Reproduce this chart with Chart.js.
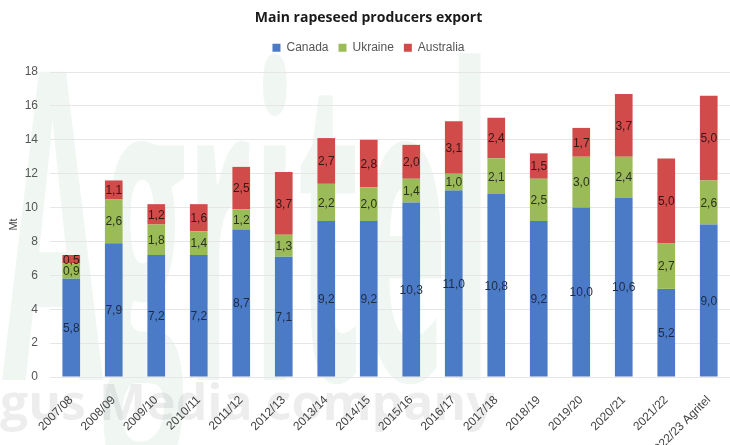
<!DOCTYPE html>
<html>
<head>
<meta charset="utf-8">
<script src="https://cdn.jsdelivr.net/npm/chart.js@4.4.1/dist/chart.umd.min.js"></script>
<style>
  html, body { margin: 0; padding: 0; background: #ffffff; }
  #wrap { width: 730px; height: 445px; position: relative; overflow: hidden; }
</style>
</head>
<body>
<div id="wrap"><canvas id="chart" width="730" height="445"></canvas></div>
<script>
// Marketing years
const seasons = ['2007/08', '2008/09', '2009/10', '2010/11', '2011/12', '2012/13', '2013/14', '2014/15',
  '2015/16', '2016/17', '2017/18', '2018/19', '2019/20', '2020/21', '2021/22', '2022/23 Agritel'];

// Rapeseed exports, million tonnes
const canada    = [5.8, 7.9, 7.2, 7.2, 8.7, 7.1, 9.2, 9.2, 10.3, 11.0, 10.8, 9.2, 10.0, 10.6, 5.2, 9.0];
const ukraine   = [0.9, 2.6, 1.8, 1.4, 1.2, 1.3, 2.2, 2.0, 1.4, 1.0, 2.1, 2.5, 3.0, 2.4, 2.7, 2.6];
const australia = [0.5, 1.1, 1.2, 1.6, 2.5, 3.7, 2.7, 2.8, 2.0, 3.1, 2.4, 1.5, 1.7, 3.7, 5.0, 5.0];

const yTicks = [0, 2, 4, 6, 8, 10, 12, 14, 16, 18];

const fmt = v => v.toFixed(1).replace('.', ',');

// Faint background branding drawn behind the plot
const watermark = {
  id: 'watermark',
  beforeDraw(chart) {
    const ctx = chart.ctx;
    ctx.save();
    ctx.fillStyle = 'rgba(110, 175, 135, 0.10)';
    ctx.font = 'bold 430px "Open Sans", sans-serif';
    ctx.textBaseline = 'alphabetic';
    const w = ctx.measureText('Agritel').width;
    ctx.translate(2, 380);
    ctx.scale(490 / w, 1);
    ctx.fillText('Agritel', 0, 0);
    ctx.restore();

    ctx.save();
    ctx.fillStyle = 'rgba(0, 0, 0, 0.07)';
    ctx.font = 'bold 50px "Open Sans", sans-serif';
    ctx.textBaseline = 'alphabetic';
    const pre = ctx.measureText('Ar').width;
    ctx.fillText('Argus Media company', -pre, 420);
    ctx.restore();
  }
};

// Value labels centred in each stacked segment
const segmentLabels = {
  id: 'segmentLabels',
  afterDatasetsDraw(chart) {
    const ctx = chart.ctx;
    ctx.save();
    ctx.font = '12px "Liberation Sans", Arial, sans-serif';
    ctx.textAlign = 'center';
    ctx.textBaseline = 'middle';
    chart.data.datasets.forEach((ds, i) => {
      const meta = chart.getDatasetMeta(i);
      ctx.fillStyle = ds.labelColor;
      meta.data.forEach((bar, j) => {
        const y = (bar.y + bar.base) / 2;
        ctx.fillText(fmt(ds.data[j]), bar.x, y + 1);
      });
    });
    ctx.restore();
  }
};

new Chart(document.getElementById('chart'), {
  type: 'bar',
  data: {
    labels: seasons,
    datasets: [
      { label: 'Canada', data: canada, backgroundColor: '#4b7bc6', labelColor: '#1e2b48' },
      { label: 'Ukraine', data: ukraine, backgroundColor: '#9bbb59', labelColor: '#2a331a' },
      { label: 'Australia', data: australia, backgroundColor: '#d14b4b', labelColor: '#3a1515' }
    ]
  },
  options: {
    responsive: false,
    animation: false,
    devicePixelRatio: 1,
    layout: { padding: { left: 7, right: 0, top: 0, bottom: 0 } },
    datasets: { bar: { categoryPercentage: 0.8, barPercentage: 0.52 } },
    plugins: {
      title: {
        display: true,
        text: 'Main rapeseed producers export',
        color: '#1a1a1a',
        font: { family: '"Open Sans", sans-serif', size: 14, weight: 'bold' },
        padding: { top: 10, bottom: 5 }
      },
      // empty spacer between the legend and the plot
      subtitle: {
        display: true,
        text: '',
        weight: 500,
        font: { size: 1 },
        padding: { top: 0, bottom: 7 }
      },
      legend: {
        position: 'top',
        labels: {
          color: '#555555',
          font: { family: '"Liberation Sans", Arial, sans-serif', size: 12 },
          boxWidth: 8,
          boxHeight: 8,
          padding: 10
        }
      },
      tooltip: { enabled: false }
    },
    scales: {
      x: {
        stacked: true,
        grid: { display: false },
        border: { display: false },
        ticks: {
          color: '#444444',
          font: { family: '"Liberation Sans", Arial, sans-serif', size: 12 },
          maxRotation: 45,
          minRotation: 45,
          autoSkip: false,
          padding: 8
        },
        afterFit(scale) {
          scale.height = 68;
          scale.paddingLeft = 0;
          scale.paddingRight = 0;
        }
      },
      y: {
        stacked: true,
        min: 0,
        max: 18,
        afterBuildTicks(scale) { scale.ticks = yTicks.map(v => ({ value: v })); },
        grid: { color: '#e6e6e6', drawTicks: false, tickLength: 0 },
        border: { display: false },
        ticks: {
          color: '#555555',
          font: { family: '"Liberation Sans", Arial, sans-serif', size: 12 },
          padding: 12
        },
        title: {
          display: true,
          text: 'Mt',
          color: '#444444',
          font: { family: '"Liberation Sans", Arial, sans-serif', size: 11 },
          padding: { top: 0, bottom: 0 }
        },
        afterFit(scale) { scale.width = 43; }
      }
    }
  },
  plugins: [watermark, segmentLabels]
});
</script>
</body>
</html>
